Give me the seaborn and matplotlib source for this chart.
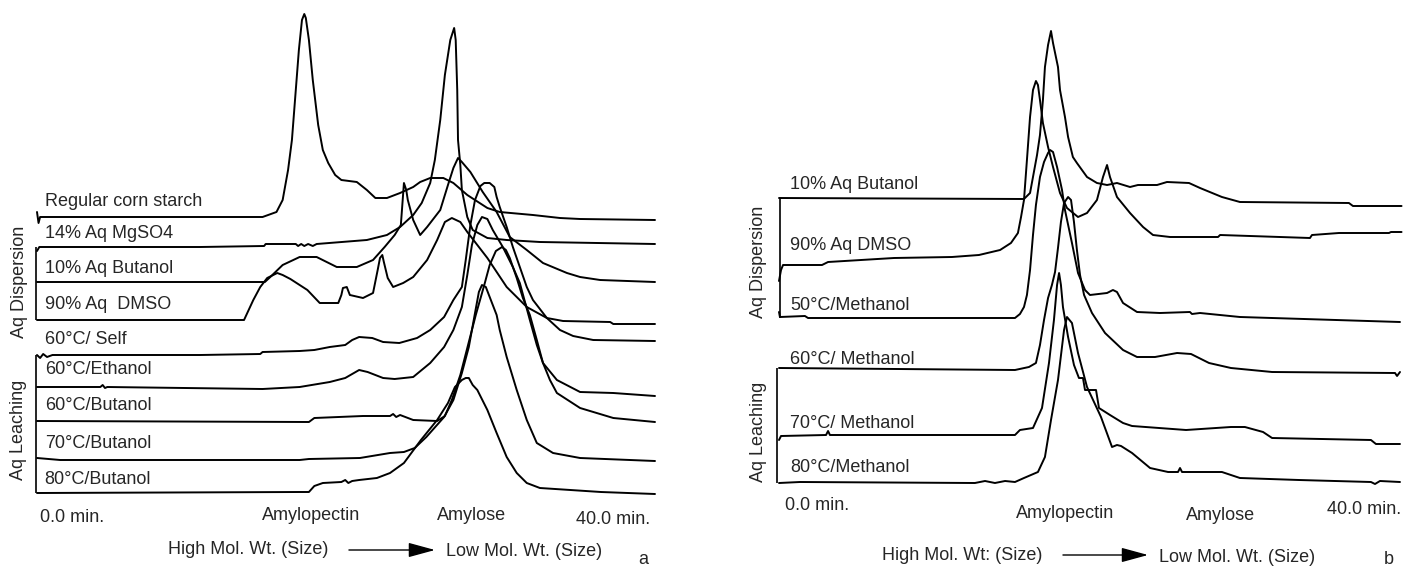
import matplotlib
matplotlib.use("Agg")
import matplotlib.pyplot as plt
import numpy as np
import pandas as pd
import seaborn as sns

# ---------------- data (elution time in min, detector response in a.u. above own baseline) -------------
# Panel a
A_LABELS = ["Regular corn starch", "14% Aq MgSO4", "10% Aq Butanol", "90% Aq  DMSO",
            "60°C/ Self", "60°C/Ethanol", "60°C/Butanol", "70°C/Butanol", "80°C/Butanol"]

A_CORN_T = [0.0, 0.1, 0.2, 7.3, 14.6, 15.5, 15.9, 16.25, 16.5, 16.75, 16.95, 17.15, 17.3, 17.4, 17.6, 17.85,
            18.2, 18.5, 18.85, 19.3, 19.7, 20.7, 21.35, 21.9, 22.65, 23.5, 24.35, 24.8, 25.45, 26.3, 26.95,
            27.85, 29.15, 29.95, 32.1, 33.85, 35.15, 40.0]
A_CORN_R = [5, -6, 0, 0, 0, 5, 17, 47, 77, 127, 167, 197, 203, 199, 177, 137, 92, 67, 54, 42, 37, 35, 27, 19,
            19, 24, 30, 35, 39, 39, 34, 22, 9, 5, 2, -1, -2, -3]

A_MGSO4_T = [0.0, 0.15, 10.55, 14.7, 14.8, 16.75, 16.9, 17.1, 17.3, 17.55, 17.85, 18.1, 21.35, 22.65, 23.5,
             24.35, 24.9, 25.45, 25.75, 26.1, 26.4, 26.75, 27.0, 27.1, 27.2, 27.25, 27.4, 27.5, 27.85, 28.2,
             29.15, 30.4, 32.55, 40.0]
A_MGSO4_R = [-4, 0, 0, 1, 3, 3, 1, 3, 1, 3, 1, 3, 7, 12, 20, 32, 44, 64, 87, 127, 172, 207, 219, 207, 157,
             107, 82, 57, 30, 17, 9, 7, 5, 3]

A_BUT10_T = [0.0, 14.75, 15.1, 15.9, 17.0, 18.1, 18.75, 19.4, 20.7, 21.75, 22.5, 23.15, 23.55, 23.75, 23.9,
             24.0, 24.35, 24.8, 25.25, 26.1, 26.6, 26.95, 27.25, 27.5, 28.05, 28.85, 29.75, 30.6, 31.7, 32.75,
             34.3, 35.15, 36.45, 40.0]
A_BUT10_R = [0, 0, 5, 17, 25, 25, 20, 15, 15, 22, 35, 47, 57, 99, 92, 82, 62, 47, 55, 72, 97, 114, 124, 120,
             110, 90, 70, 45, 32, 19, 9, 5, 2, 0]

A_DMSO_T = [0.0, 13.4, 14.0, 14.45, 14.9, 15.55, 15.9, 16.4, 17.5, 18.3, 19.5, 19.7, 19.8, 20.05, 20.25, 21.1,
            21.75, 22.05, 22.2, 22.35, 22.45, 22.7, 23.05, 23.7, 24.35, 25.25, 25.9, 26.4, 26.85, 27.4, 27.85,
            29.15, 30.4, 31.7, 33.0, 34.05, 37.1, 37.3, 40.0]
A_DMSO_R = [0, 0, 20, 33, 42, 47, 45, 41, 30, 17, 17, 25, 32, 33, 25, 22, 27, 50, 62, 65, 58, 42, 33, 37, 43,
            60, 80, 98, 102, 98, 88, 62, 33, 13, 2, -1, -2, -4, -4]

A_SELF_T = [0.0, 0.2, 0.4, 0.65, 1.0, 10.55, 14.45, 14.6, 17.0, 17.95, 18.95, 19.95, 20.4, 20.85, 21.7, 22.4,
            23.45, 24.6, 25.45, 26.35, 26.95, 27.5, 27.75, 28.05, 28.35, 28.7, 28.95, 29.3, 29.6, 29.75, 29.95,
            30.4, 30.8, 31.25, 31.7, 32.1, 33.0, 33.85, 34.7, 36.0, 40.0]
A_SELF_R = [0, -3, 1, -2, 0, 0, 1, 3, 4, 5, 8, 10, 15, 18, 17, 13, 12, 17, 25, 38, 55, 68, 95, 130, 155, 169,
            172, 172, 168, 158, 148, 128, 108, 88, 68, 55, 37, 25, 19, 15, 14]

A_ETOH_T = [0.0, 4.1, 4.25, 4.4, 4.55, 14.6, 17.0, 18.95, 19.95, 20.85, 21.4, 22.4, 23.15, 24.35, 25.45, 26.35,
            26.95, 27.5, 27.85, 28.15, 28.5, 28.8, 29.15, 29.5, 30.15, 30.8, 31.25, 31.9, 32.35, 32.75, 33.65,
            35.15, 37.3, 40.0]
A_ETOH_R = [0, 0, 2, -1, 0, -2, 0, 5, 9, 17, 15, 9, 8, 10, 24, 40, 57, 80, 112, 142, 162, 170, 168, 157, 140,
            120, 104, 67, 42, 24, 7, -5, -6, -9]

A_BUT60_T = [0.0, 17.6, 17.95, 21.1, 22.85, 23.05, 23.25, 23.5, 24.35, 25.9, 26.4, 26.85, 27.4, 27.9, 28.4,
             28.95, 29.3, 29.7, 30.1, 30.35, 30.6, 31.05, 31.45, 31.9, 32.35, 32.75, 33.2, 33.65, 35.15, 37.3,
             40.0]
A_BUT60_R = [0, -1, 3, 5, 5, 7, 4, 6, 1, 0, 5, 21, 46, 76, 106, 136, 156, 170, 174, 171, 163, 143, 123, 106,
             81, 58, 41, 28, 13, 3, -1]

A_BUT70_T = [0.0, 1.5, 17.0, 17.6, 20.9, 22.85, 23.75, 24.45, 25.2, 26.35, 26.95, 27.5, 27.95, 28.35, 28.6,
             28.8, 29.05, 29.3, 29.75, 29.95, 30.4, 31.05, 31.7, 32.35, 33.4, 35.15, 40.0]
A_BUT70_R = [1, -1, -1, 0, 1, 6, 7, 11, 22, 42, 59, 86, 112, 146, 167, 174, 172, 162, 144, 129, 102, 69, 39,
             16, 6, 1, -2]

A_BUT80_T = [0.0, 17.0, 17.6, 17.95, 18.5, 19.7, 19.95, 20.15, 20.4, 20.85, 22.0, 22.85, 23.75, 24.85, 25.9,
             26.6, 27.05, 27.5, 27.75, 27.95, 28.2, 28.5, 29.15, 29.75, 30.4, 31.05, 31.7, 32.55, 36.5, 40.0]
A_BUT80_R = [-1, 0, 0, 6, 9, 10, 12, 9, 11, 12, 14, 19, 29, 52, 72, 89, 105, 112, 114, 114, 107, 102, 82, 59,
             35, 19, 9, 4, 0, -2]

# Panel b
B_LABELS = ["10% Aq Butanol", "90% Aq DMSO", "50°C/Methanol", "60°C/ Methanol", "70°C/ Methanol",
            "80°C/Methanol"]

B_BUT10_T = [0.0, 15.78, 16.17, 16.36, 16.62, 16.81, 17.0, 17.13, 17.33, 17.52, 17.65, 17.97, 18.1, 18.42,
             18.62, 18.93, 19.19, 19.84, 20.48, 21.13, 21.77, 22.61, 23.12, 24.35, 24.99, 26.41, 27.12, 28.53,
             29.69, 36.71, 36.97, 40.1]
B_BUT10_R = [0, -1, 5, 21, 43, 63, 98, 131, 153, 167, 155, 131, 108, 81, 61, 41, 35, 21, 15, 13, 15, 11, 13,
             13, 16, 15, 10, 1, -4, -5, -8, -8]

B_DMSO_T = [0.0, 0.13, 0.26, 2.77, 3.16, 7.41, 11.14, 12.88, 14.24, 14.94, 15.39, 15.59, 15.78, 15.97, 16.17,
            16.36, 16.55, 16.68, 16.81, 17.0, 17.33, 17.65, 18.1, 18.55, 19.26, 19.84, 20.48, 20.87, 21.13,
            21.32, 21.77, 22.61, 23.45, 24.09, 25.19, 28.28, 28.41, 34.2, 34.33, 36.07, 39.29, 39.42, 40.1]
B_DMSO_R = [-16, -5, 0, 0, 3, 7, 8, 10, 15, 22, 32, 48, 65, 105, 148, 175, 184, 180, 165, 142, 118, 98, 72, 57,
            48, 52, 65, 88, 100, 88, 68, 52, 38, 30, 28, 28, 30, 27, 30, 32, 32, 33, 33]

B_MEOH50_T = [0.0, 0.06, 1.67, 1.87, 15.2, 15.52, 15.78, 15.97, 16.17, 16.36, 16.55, 16.81, 17.07, 17.33,
              17.46, 17.65, 17.91, 18.23, 18.42, 18.87, 19.26, 19.71, 20.03, 21.13, 21.51, 21.77, 22.16, 23.06,
              24.54, 26.47, 26.6, 27.12, 29.69, 40.0]
B_MEOH50_R = [6, 1, 2, 0, 0, 4, 11, 23, 48, 83, 113, 141, 156, 165, 168, 166, 151, 128, 108, 75, 45, 28, 23, 25,
              28, 26, 15, 6, 5, 6, 4, 5, 1, -4]

B_MEOH60_T = [0.0, 15.2, 16.1, 16.55, 16.81, 17.07, 17.33, 17.58, 17.78, 17.97, 18.16, 18.36, 18.62, 18.81,
              19.0, 19.19, 19.39, 19.65, 20.16, 21.0, 22.16, 23.06, 24.22, 25.64, 26.54, 27.7, 29.11, 31.76,
              39.68, 39.81, 40.0]
B_MEOH60_R = [2, 0, 3, 7, 25, 50, 72, 85, 98, 122, 148, 167, 173, 170, 148, 120, 95, 75, 57, 37, 20, 13, 13,
              17, 16, 7, 2, -2, -3, -6, -2]

B_MEOH70_T = [0.0, 0.13, 3.03, 3.16, 3.28, 15.2, 15.52, 16.36, 16.94, 17.39, 17.71, 17.91, 18.04, 18.16,
              18.29, 18.62, 19.0, 19.32, 19.58, 19.71, 20.42, 20.61, 21.32, 22.16, 22.74, 26.22, 29.11, 30.01,
              31.18, 31.76, 38.13, 38.45, 40.0]
B_MEOH70_R = [-3, 1, 2, 6, 2, 2, 7, 9, 29, 74, 117, 152, 164, 152, 130, 100, 72, 59, 59, 47, 47, 29, 22, 14,
              11, 7, 10, 10, 5, -1, -3, -7, -7]

B_MEOH80_T = [0.0, 1.35, 12.62, 13.27, 13.91, 14.56, 15.2, 15.78, 16.68, 17.13, 17.52, 17.97, 18.36, 18.55,
              18.87, 19.26, 19.84, 20.74, 21.45, 21.77, 22.03, 22.74, 23.9, 25.06, 25.7, 25.83, 25.96, 28.53,
              29.69, 33.49, 38.13, 38.39, 38.71, 40.0]
B_MEOH80_R = [-2, -1, -2, 0, -2, 0, -1, 3, 9, 24, 61, 101, 151, 164, 158, 128, 94, 64, 34, 36, 35, 28, 13, 9, 9,
              13, 9, 9, 3, 1, -1, -3, 0, -1]

# ---------------- layout (stack offsets and label placement) ----------------
A_OFFSETS = [352, 322, 287, 249, 214, 182, 148, 110, 77]
A_LABEL_DY = [16, 14, 14, 16, 15, 17, 16, 16, 12]
B_OFFSETS = [371, 304, 251, 199, 132, 88]
B_LABEL_DY = [14, 20, 13, 11, 14, 14]

sns.set_style("white")
plt.rcParams["font.family"] = ["Liberation Sans", "DejaVu Sans"]
FS = 13

W, H = 1403, 569
fig = plt.figure(figsize=(W / 100, H / 100), dpi=100)
axA = fig.add_axes([0, 0, 700 / W, 1])
axB = fig.add_axes([700 / W, 0, 703 / W, 1])


def long_frame(labels, times, resps, offsets):
    rows = []
    for lab, t, r, off in zip(labels, times, resps, offsets):
        for ti, ri in zip(t, r):
            rows.append({"sample": lab, "time": ti, "signal": ri + off})
    return pd.DataFrame(rows)


dfA = long_frame(A_LABELS,
                 [A_CORN_T, A_MGSO4_T, A_BUT10_T, A_DMSO_T, A_SELF_T, A_ETOH_T, A_BUT60_T, A_BUT70_T, A_BUT80_T],
                 [A_CORN_R, A_MGSO4_R, A_BUT10_R, A_DMSO_R, A_SELF_R, A_ETOH_R, A_BUT60_R, A_BUT70_R, A_BUT80_R],
                 A_OFFSETS)
dfB = long_frame(B_LABELS,
                 [B_BUT10_T, B_DMSO_T, B_MEOH50_T, B_MEOH60_T, B_MEOH70_T, B_MEOH80_T],
                 [B_BUT10_R, B_DMSO_R, B_MEOH50_R, B_MEOH60_R, B_MEOH70_R, B_MEOH80_R],
                 B_OFFSETS)

for ax, df in ((axA, dfA), (axB, dfB)):
    sns.lineplot(data=df, x="time", y="signal", units="sample", estimator=None, sort=False,
                 color="black", linewidth=1.4, legend=False, ax=ax)
    ax.set_ylim(0, H)
    ax.set_axis_off()

axA.set_xlim(-37 / 15.45, (700 - 37) / 15.45)
axB.set_xlim((700 - 779) / 15.525, (1403 - 779) / 15.525)

# trace labels
for lab, off, dy in zip(A_LABELS, A_OFFSETS, A_LABEL_DY):
    axA.text(0.5, off + dy, lab, fontsize=FS, va="center", ha="left")
for lab, off, dy in zip(B_LABELS, B_OFFSETS, B_LABEL_DY):
    axB.text(0.7, off + dy, lab, fontsize=FS, va="center", ha="left")

# group brackets and labels
axA.vlines(-0.06, A_OFFSETS[3], A_OFFSETS[1], color="black", lw=1.2)
axA.vlines(-0.06, A_OFFSETS[8] - 1, A_OFFSETS[4], color="black", lw=1.2)
axA.text(-1.12, 287, "Aq Dispersion", rotation=90, fontsize=FS, va="center", ha="center")
axA.text(-1.17, 139, "Aq Leaching", rotation=90, fontsize=FS, va="center", ha="center")

axB.vlines(0.06, B_OFFSETS[2], B_OFFSETS[0], color="black", lw=1.2)
axB.vlines(-0.13, B_OFFSETS[5] - 2, B_OFFSETS[3] + 2, color="black", lw=1.2)
axB.text(-1.29, 307, "Aq Dispersion", rotation=90, fontsize=FS, va="center", ha="center")
axB.text(-1.29, 137, "Aq Leaching", rotation=90, fontsize=FS, va="center", ha="center")

# axis annotations
arrow = dict(arrowstyle="-|>,head_length=1.1,head_width=0.3", mutation_scale=15, lw=1.0,
             color="black", shrinkA=0, shrinkB=0)

axA.text(0.19, 52, "0.0 min.", fontsize=FS, va="center", ha="left")
axA.text(17.73, 54, "Amylopectin", fontsize=FS, va="center", ha="center")
axA.text(28.1, 53, "Amylose", fontsize=FS, va="center", ha="center")
axA.text(39.68, 49, "40.0 min.", fontsize=FS, va="center", ha="right")
axA.text(13.69, 19, "High Mol. Wt. (Size)", fontsize=FS, va="center", ha="center")
axA.annotate("", xy=(25.76, 19), xytext=(20.19, 19), arrowprops=arrow)
axA.text(26.47, 17, "Low Mol. Wt. (Size)", fontsize=FS, va="center", ha="left")
axA.text(39.22, 9, "a", fontsize=FS, va="center", ha="center")

axB.text(0.39, 64, "0.0 min.", fontsize=FS, va="center", ha="left")
axB.text(18.42, 56, "Amylopectin", fontsize=FS, va="center", ha="center")
axB.text(28.41, 54, "Amylose", fontsize=FS, va="center", ha="center")
axB.text(40.1, 59, "40.0 min.", fontsize=FS, va="center", ha="right")
axB.text(11.79, 14, "High Mol. Wt: (Size)", fontsize=FS, va="center", ha="center")
axB.annotate("", xy=(23.77, 14), xytext=(18.29, 14), arrowprops=arrow)
axB.text(24.48, 12, "Low Mol. Wt. (Size)", fontsize=FS, va="center", ha="left")
axB.text(39.29, 10, "b", fontsize=FS, va="center", ha="center")

fig.savefig("out.png", dpi=100, facecolor="white")
